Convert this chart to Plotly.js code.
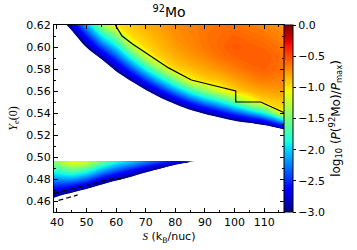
<!DOCTYPE html>
<html><head><meta charset="utf-8">
<script src="https://cdn.plot.ly/plotly-3.0.1.min.js"></script>
<style>body{margin:0;background:#fff}#c{width:357px;height:250px}</style>
</head><body><div id="c"></div>
<script>
// Upper region grid: S (kB/nuc) columns, Ye(0) rows, log10(P/Pmax)
const S_up = [39,45,50,55,60,65,70,75,80,85,90,95,100,105,110,117];
const Ye_up = [0.51,0.52,0.53,0.54,0.55,0.56,0.57,0.58,0.59,0.60,0.61,0.62];
const z_up = [
 [-5,-5,-5,-5,-5,-5,-5,-5,-5,-5,-5,-5,-4.9,-5,-5,-5],
 [-5,-5,-5,-5,-5,-5,-5,-5,-4.87,-4.64,-4.4,-4.23,-4.08,-4.05,-3.95,-3.67],
 [-5,-5,-5,-5,-5,-5,-4.82,-4.5,-4.2,-3.93,-3.67,-3.46,-3.25,-3.1,-2.9,-2.33],
 [-5,-5,-5,-5,-4.8,-4.57,-4.23,-3.87,-3.53,-3.21,-2.93,-2.69,-2.42,-2.15,-1.85,-1.0],
 [-5,-5,-5,-5,-4.33,-4.03,-3.65,-3.25,-2.87,-2.5,-2.19,-1.92,-1.59,-1.2,-0.95,-0.88],
 [-5,-5,-4.78,-4.5,-3.86,-3.49,-3.06,-2.62,-2.2,-1.79,-1.45,-1.15,-0.94,-0.84,-0.78,-0.75],
 [-5,-4.8,-4.33,-3.98,-3.38,-2.95,-2.47,-2.0,-1.53,-1.07,-0.93,-0.87,-0.78,-0.7,-0.65,-0.67],
 [-5,-4.4,-3.88,-3.46,-2.9,-2.41,-1.88,-1.37,-0.95,-0.86,-0.79,-0.73,-0.66,-0.6,-0.57,-0.62],
 [-5,-4.0,-3.43,-2.95,-2.43,-1.87,-1.29,-0.93,-0.83,-0.76,-0.7,-0.63,-0.58,-0.55,-0.55,-0.62],
 [-4.6,-3.6,-2.98,-2.43,-1.95,-1.32,-0.95,-0.85,-0.76,-0.7,-0.64,-0.59,-0.54,-0.56,-0.58,-0.65],
 [-4.1,-3.2,-2.55,-1.92,-1.48,-0.97,-0.88,-0.8,-0.72,-0.68,-0.63,-0.6,-0.57,-0.6,-0.63,-0.7],
 [-3.5,-2.8,-2.1,-1.4,-1.0,-0.9,-0.82,-0.76,-0.7,-0.66,-0.64,-0.62,-0.62,-0.65,-0.68,-0.76]
];
// Lower wedge grid
const S_lo = [39,45,50,55,60,65,70,75,80,85,90];
const Ye_lo = [0.455,0.46,0.465,0.47,0.475,0.48,0.485,0.49,0.496];
const z_lo = [
 [-3.39,-3.85,-4.18,-4.43,-4.61,-4.93,-5,-5,-5,-5,-5],
 [-3.15,-3.51,-3.81,-4.07,-4.27,-4.57,-5,-5,-5,-5,-5],
 [-2.90,-3.17,-3.44,-3.71,-3.93,-4.21,-4.68,-5,-5,-5,-5],
 [-2.66,-2.83,-3.07,-3.36,-3.58,-3.86,-4.28,-4.79,-5,-5,-5],
 [-2.42,-2.49,-2.70,-2.99,-3.24,-3.5,-3.88,-4.33,-5,-5,-5],
 [-2.18,-2.15,-2.33,-2.64,-2.9,-3.14,-3.48,-3.87,-4.73,-5,-5],
 [-1.93,-1.80,-1.96,-2.29,-2.55,-2.79,-3.08,-3.41,-4.06,-5,-5],
 [-1.69,-1.46,-1.59,-1.93,-2.21,-2.43,-2.68,-2.95,-3.4,-4.66,-5],
 [-1.4,-1.05,-1.15,-1.5,-1.8,-2.0,-2.2,-2.4,-2.6,-2.85,-3.3]
];
// Solid black boundary line
const line_S = [59.7,62,65.4,71,77.7,85.4,100.4,100.4,108.8,117];
const line_Ye = [0.62,0.61,0.603,0.593,0.581,0.57,0.56,0.55,0.55,0.54];
// Dashed lines
const dash1_S = [39,48.8,54.3,57,62.5];
const dash1_Ye = [0.467,0.473,0.477,0.48,0.48];
const dash2_S = [40.5,47];
const dash2_Ye = [0.4605,0.4655];
// Colorbar ticks
const cbTicks = [-3.0,-2.5,-2.0,-1.5,-1.0,-0.5,0.0];
const xTicks = [40,50,60,70,80,90,100,110];

const jet = [[0,'rgb(0,0,127)'],[0.11,'rgb(0,0,255)'],[0.125,'rgb(0,0,255)'],[0.34,'rgb(0,219,255)'],
 [0.35,'rgb(0,229,247)'],[0.375,'rgb(21,255,226)'],[0.64,'rgb(239,255,8)'],[0.65,'rgb(247,245,0)'],
 [0.66,'rgb(255,236,0)'],[0.89,'rgb(255,19,0)'],[0.91,'rgb(232,0,0)'],[1,'rgb(127,0,0)']];
const off = 0.004;
const jetFill = [[0,'rgba(255,255,255,0)'],[0.003,'rgba(255,255,255,0)']].concat(
  jet.map(p => [off + p[0]*(1-off), p[1]]));

const cont = {start:-3, end:0, size:0.025, coloring:'fill', showlines:false};
const font = 'DejaVu Sans';
const data = [
 {type:'contour', x:S_up, y:Ye_up, z:z_up, contours:cont, autocontour:false, colorscale:jetFill, showscale:false, line:{width:0}, hoverinfo:'skip'},
 {type:'contour', x:S_lo, y:Ye_lo, z:z_lo, contours:cont, autocontour:false, colorscale:jetFill, showscale:false, line:{width:0}, hoverinfo:'skip'},
 {type:'scatter', mode:'lines', x:line_S, y:line_Ye, line:{color:'black', width:1.2}, showlegend:false, hoverinfo:'skip'},
 {type:'scatter', mode:'lines', x:dash1_S, y:dash1_Ye, line:{color:'black', width:1.2, dash:'5px,3px'}, showlegend:false, hoverinfo:'skip'},
 {type:'scatter', mode:'lines', x:dash2_S, y:dash2_Ye, line:{color:'black', width:1.2, dash:'5px,3px'}, showlegend:false, hoverinfo:'skip'},
 {type:'heatmap', x:[200,201], y:[0.5], z:[[-3,0]], zmin:-3, zmax:0, colorscale:jet, hoverinfo:'skip',
  colorbar:{x:1, xanchor:'left', xref:'paper', xpad:0, ypad:0, y:0.5, yanchor:'middle', len:1, lenmode:'fraction',
   thickness:9, outlinewidth:1, outlinecolor:'black', ticks:'outside', ticklen:3, tickcolor:'black',
   tickvals:cbTicks, tickformat:'.1f', tickfont:{family:font, size:11, color:'black'},
   title:{text:'log<sub>10</sub> (<i>P</i>(<sup>92</sup>Mo)/<i>P</i><sub>max</sub>)', side:'right', font:{family:font, size:12, color:'black'}}}}
];
const layout = {
 width:357, height:250, margin:{l:54, r:70, t:25, b:38},
 paper_bgcolor:'white', plot_bgcolor:'white', showlegend:false,
 font:{family:font, size:11, color:'black'},
 title:{text:'<sup>92</sup>Mo', x:0.5, xref:'paper', y:0.95, yref:'container', yanchor:'middle', font:{family:font, size:14, color:'black'}},
 xaxis:{range:[39,116.7], tickvals:xTicks, ticks:'inside', ticklen:4, tickcolor:'black', showline:true, linecolor:'black', linewidth:1,
   mirror:'allticks', showgrid:false, zeroline:false, tickfont:{family:font, size:11},
   minor:{ticks:'inside', ticklen:2, dtick:5, tick0:0, tickcolor:'black', showgrid:false},
   title:{text:'<span style="font-family:Liberation Serif"><i>S</i></span> (k<sub>B</sub>/nuc)', font:{family:font, size:11}, standoff:4}},
 yaxis:{range:[0.45,0.62], dtick:0.02, tick0:0.46, tickformat:'.2f', ticks:'inside', ticklen:4, tickcolor:'black', showline:true, linecolor:'black', linewidth:1,
   mirror:'allticks', showgrid:false, zeroline:false, tickfont:{family:font, size:11},
   minor:{ticks:'inside', ticklen:2, dtick:0.01, tick0:0, tickcolor:'black', showgrid:false},
   title:{text:'<i>Y</i><sub>e</sub>(0)', font:{family:'Liberation Serif', size:12}, standoff:6}}
};
Plotly.newPlot('c', data, layout, {staticPlot:true, displayModeBar:false});
</script></body></html>
